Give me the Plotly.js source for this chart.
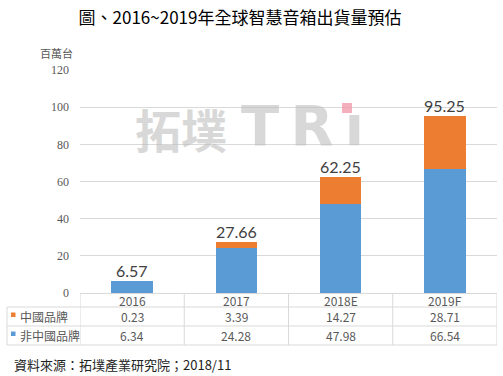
<!DOCTYPE html>
<html><head><meta charset="utf-8">
<script src="https://cdn.plot.ly/plotly-3.0.1.min.js"></script>
<style>body{margin:0;background:#fff}#c{width:503px;height:376px}</style>
</head><body><div id="c"></div>
<script>
const categories = ['2016', '2017', '2018E', '2019F'];
const chinaBrand = [0.23, 3.39, 14.27, 28.71];
const nonChinaBrand = [6.34, 24.28, 47.98, 66.54];
const totals = [6.57, 27.66, 62.25, 95.25];
const seriesNames = ['中國品牌', '非中國品牌'];
const yTicks = [0, 20, 40, 60, 80, 100, 120];
const titleText = '圖、2016~2019年全球智慧音箱出貨量預估';
const unitText = '百萬台';
const sourceText = '資料來源：拓墣產業研究院；2018/11';

const ORANGE = '#ED7D31', BLUE = '#5B9BD5', GRID = '#D9D9D9';
const L = 80, R = 497, T = 70, B = 293;
const px = X => (X - L) / (R - L);
const py = Y => (B - Y) / (B - T);
const CJK = '"Noto Sans CJK TC", "Noto Sans CJK SC", sans-serif';

const traces = [
  {type: 'bar', name: seriesNames[1], x: categories, y: nonChinaBrand, marker: {color: BLUE}, hoverinfo: 'skip'},
  {type: 'bar', name: seriesNames[0], x: categories, y: chinaBrand, marker: {color: ORANGE}, hoverinfo: 'skip'}
];

const ann = [];
const shapes = [];
// totals above bars (x given as category index)
categories.forEach((c, i) => {
  ann.push({x: i, y: totals[i], xref: 'x', yref: 'y', text: totals[i].toFixed(2), showarrow: false,
    yanchor: 'bottom', yshift: -1, font: {family: 'Lato, "Open Sans", sans-serif', size: 16, color: '#404040'}});
});
// unit label
ann.push({x: px(75), y: py(53), xref: 'paper', yref: 'paper', text: unitText, showarrow: false,
  xanchor: 'right', yanchor: 'middle', font: {family: CJK, size: 11, color: '#595959'}});
// table header & values
const tfont = {family: CJK, size: 12, color: '#595959'};
const rowY = [py(300), py(316.5), py(335.5)];
categories.forEach((c, i) => {
  ann.push({x: i, y: rowY[0], xref: 'x', yref: 'paper', text: c, showarrow: false, yanchor: 'middle', font: tfont});
  ann.push({x: i, y: rowY[1], xref: 'x', yref: 'paper', text: chinaBrand[i].toFixed(2), showarrow: false, yanchor: 'middle', font: tfont});
  ann.push({x: i, y: rowY[2], xref: 'x', yref: 'paper', text: nonChinaBrand[i].toFixed(2), showarrow: false, yanchor: 'middle', font: tfont});
});
ann.push({x: px(18), y: rowY[1], xref: 'paper', yref: 'paper', text: seriesNames[0], showarrow: false, xanchor: 'left', yanchor: 'middle', font: tfont});
ann.push({x: px(18), y: rowY[2], xref: 'paper', yref: 'paper', text: seriesNames[1], showarrow: false, xanchor: 'left', yanchor: 'middle', font: tfont});
// legend squares
shapes.push({type: 'rect', xref: 'paper', yref: 'paper', x0: px(11), x1: px(15.5), y0: py(317), y1: py(312.5), fillcolor: ORANGE, line: {width: 0}});
shapes.push({type: 'rect', xref: 'paper', yref: 'paper', x0: px(11), x1: px(15.5), y0: py(336), y1: py(331.5), fillcolor: BLUE, line: {width: 0}});
// table lines
[307, 326, 345].forEach(Y => shapes.push({type: 'line', xref: 'paper', yref: 'paper', x0: px(7), x1: 1, y0: py(Y), y1: py(Y), line: {color: GRID, width: 1}}));
shapes.push({type: 'line', xref: 'paper', yref: 'paper', x0: px(7), x1: px(7), y0: py(307), y1: py(345), line: {color: GRID, width: 1}});
for (let k = 0; k <= categories.length; k++) {
  shapes.push({type: 'line', xref: 'x', yref: 'paper', x0: k - 0.5, x1: k - 0.5, y0: 0, y1: py(345), line: {color: GRID, width: 1}});
}
// watermark
ann.push({x: px(181), y: py(128), xref: 'paper', yref: 'paper', text: '<b>拓墣</b>', showarrow: false,
  xanchor: 'center', yanchor: 'middle', font: {family: CJK, size: 46, color: 'rgba(190,190,190,0.6)'}});
ann.push({x: px(302), y: py(126), xref: 'paper', yref: 'paper', text: '<b>T\u2009R\u2009ı</b>', showarrow: false,
  xanchor: 'center', yanchor: 'middle', font: {family: '"DejaVu Sans", sans-serif', size: 56, color: 'rgba(190,190,190,0.6)'}});
shapes.push({type: 'rect', xref: 'paper', yref: 'paper', x0: px(342), x1: px(352), y0: py(113), y1: py(103), fillcolor: 'rgba(240,150,165,0.75)', line: {width: 0}});
// source
ann.push({x: px(12), y: py(364), xref: 'paper', yref: 'paper', text: sourceText, showarrow: false,
  xanchor: 'left', yanchor: 'middle', font: {family: CJK, size: 13, color: '#222'}});

const layout = {
  width: 503, height: 376,
  margin: {l: L, r: 503 - R, t: T, b: 376 - B, pad: 0},
  paper_bgcolor: '#fff', plot_bgcolor: '#fff',
  showlegend: false,
  barmode: 'stack', bargap: 0.6,
  title: {text: titleText, x: 240 / 503, xanchor: 'center', y: 1 - 18 / 376, yanchor: 'middle', yref: 'container',
    font: {family: CJK, size: 17, color: '#000'}},
  xaxis: {type: 'category', range: [-0.5, 3.5], showticklabels: false, ticks: '', showgrid: false, zeroline: false,
    showline: true, linecolor: GRID, linewidth: 1, fixedrange: true},
  yaxis: {range: [0, 120], tickvals: yTicks, ticks: '', showline: false, zeroline: false, gridcolor: GRID, gridwidth: 1,
    ticklabelstandoff: 10, tickfont: {family: '"Liberation Serif", serif', size: 12, color: '#595959'}, fixedrange: true},
  annotations: ann,
  shapes: shapes
};
Plotly.newPlot('c', traces, layout, {displayModeBar: false, staticPlot: true});
</script>
</body></html>
